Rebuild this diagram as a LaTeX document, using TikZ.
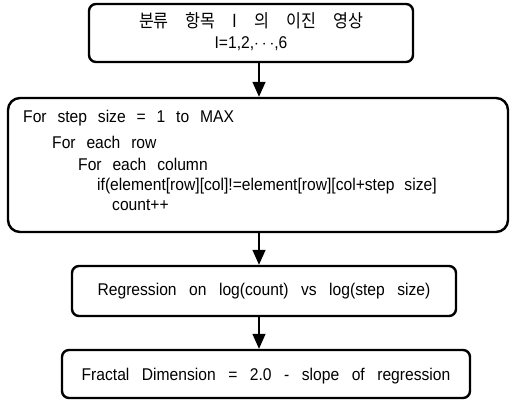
\documentclass[tikz,border=0pt]{standalone}
\usepackage{fontspec}
\setmainfont[FakeStretch=0.92,WordSpace=2.5]{Liberation Sans}
\newfontfamily\kr[FakeStretch=0.9]{Noto Sans CJK KR}
\usetikzlibrary{arrows.meta}
\tikzset{
  box/.style={draw, line width=2.4pt, rounded corners=7pt, inner sep=0pt},
  txt/.style={inner sep=0pt, font=\fontsize{17}{20}\selectfont},
  codeline/.style={txt, anchor=base west},
  arr/.style={line width=1.4pt, -{Triangle[width=13pt,length=15pt]}}
}
\begin{document}
\begin{tikzpicture}[x=1pt,y=-1pt]
\useasboundingbox (0,0) rectangle (512,403);
% boxes
\node[box, minimum width=324pt, minimum height=58pt] (b1) at (251,33) {};
\node[box, rounded corners=12pt, minimum width=500pt, minimum height=134pt] (b2) at (258,165) {};
\node[box, minimum width=384pt, minimum height=50pt] (b3) at (264,291) {};
\node[box, minimum width=408pt, minimum height=48pt] (b4) at (266,374) {};
% texts
\node[inner sep=0pt, font=\kr\fontsize{18}{20}\selectfont] (t1) at (251,21)
  {분류\hspace{17pt}항목\hspace{17pt}I\hspace{17pt}의\hspace{17pt}이진\hspace{17pt}영상};
\node[txt] (t1b) at (251,44) {I=1,2,$\cdots$,6};
\node[codeline] (c1) at (23,123) {For step size = 1 to MAX};
\node[codeline] (c2) at (52,149) {For each row};
\node[codeline] (c3) at (78,171) {For each column};
\node[codeline] (c4) at (97,191) {\fontdimen2\font=0.3em if(element[row][col]!=element[row][col+step\hspace{10pt}size]};
\node[codeline] (c5) at (112,211) {count++};
\node[txt] (t3) at (264,291) {\spaceskip=12.5pt Regression on log(count) vs log(step size)};
\node[txt] (t4) at (266,376) {\spaceskip=12.5pt Fractal Dimension = 2.0 - slope of regression};
% arrows
\coordinate (ax) at (259,0);
\draw[arr] (b1.south -| ax) -- (b2.north -| ax);
\draw[arr] (b2.south -| ax) -- (b3.north -| ax);
\draw[arr] (b3.south -| ax) -- (b4.north -| ax);
\end{tikzpicture}
\end{document}
